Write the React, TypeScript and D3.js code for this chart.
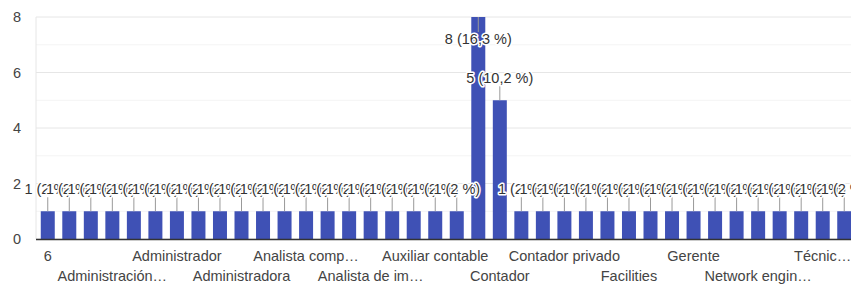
import * as d3 from 'd3';

const WIDTH = 851;
const HEIGHT = 287;
const MARGIN = { top: 17, right: 0, bottom: 48, left: 36 };

// categories in the order the form lists them (only every third is labelled)
const categories = [
  '6', 'Abogado', 'Administración', 'Administración de empresas', 'Administración pública',
  'Administrado', 'Administrador', 'Administrador de empresas', 'Administrador financiero',
  'Administradora', 'Administrativo', 'Analista', 'Analista compras internacionales',
  'Analista contable', 'Analista de costos', 'Analista de importaciones', 'Analista financiero',
  'Asistente contable', 'Auxiliar contable', 'Auxiliar de contabilidad', 'Contabilidad',
  'Contador', 'Contador general', 'Contador junior', 'Contador privado', 'Contador publico',
  'Director financiero', 'Facilities', 'Finanzas', 'Gerencia', 'Gerente',
  'Gerente administrativo', 'Jefe de contabilidad', 'Network engineer', 'Recursos humanos',
  'Supervisor', 'Técnico contable', 'Tesorero',
];
const counts = [
  1, 1, 1, 1, 1, 1, 1, 1, 1, 1, 1, 1, 1, 1, 1, 1, 1, 1, 1, 1, 8, 5,
  1, 1, 1, 1, 1, 1, 1, 1, 1, 1, 1, 1, 1, 1, 1, 1,
];
const tickLabels = [
  '6', 'Administración…', 'Administrador', 'Administradora', 'Analista comp…',
  'Analista de im…', 'Auxiliar contable', 'Contador', 'Contador privado', 'Facilities',
  'Gerente', 'Network engin…', 'Técnic…',
];
const yTicks = [0, 2, 4, 6, 8];
const yMinorTicks = [1, 3, 5, 7];

const FONT = "Arial, 'Liberation Sans', sans-serif";
const BAR = '#3f51b5';

const fmtPct = (v: number) => {
  const p = (v / d3.sum(counts)) * 100;
  return d3.format('.1f')(p).replace(/\.0$/, '').replace('.', ',');
};

export default function App() {
  const y0 = HEIGHT - MARGIN.bottom;
  const yScale = d3.scaleLinear().domain([0, 8]).range([y0, MARGIN.top]);
  const xScale = d3
    .scaleBand<string>()
    .domain(categories)
    .range([MARGIN.left + 1, 855])
    .paddingInner(0.35)
    .paddingOuter(0.175);
  const bw = xScale.bandwidth();
  const cx = (i: number) => (xScale(categories[i]) || 0) + bw / 2;

  // annotation placement: above the bar unless it would leave the plot
  const notes = counts.map((v, i) => {
    const top = yScale(v);
    const inside = top - 22 < MARGIN.top + 5;
    return {
      x: cx(i),
      top,
      stemEnd: inside ? top + 15 : top - 14,
      ty: inside ? top + 22 : top - 22,
      text: `${v} (${fmtPct(v)} %)`,
    };
  });

  return (
    <svg
      width={WIDTH}
      height={HEIGHT}
      style={{ position: 'absolute', left: 0, top: 0, background: '#fff' }}
      fontFamily={FONT}
    >
      {/* gridlines */}
      {yMinorTicks.map((t) => (
        <line key={'m' + t} x1={MARGIN.left} x2={WIDTH} y1={yScale(t)} y2={yScale(t)} stroke="#f4f4f4" />
      ))}
      {yTicks.map((t) => (
        <line key={'g' + t} x1={MARGIN.left} x2={WIDTH} y1={yScale(t)} y2={yScale(t)} stroke="#e6e6e6" />
      ))}
      <line x1={MARGIN.left} x2={MARGIN.left} y1={MARGIN.top} y2={y0} stroke="#e6e6e6" />

      {/* y tick labels */}
      {yTicks.map((t) => (
        <text key={'y' + t} x={21} y={yScale(t)} dy="0.35em" textAnchor="end" fontSize={14.5} fill="#444">
          {t}
        </text>
      ))}

      {/* bars */}
      {counts.map((v, i) => (
        <rect key={'b' + i} x={xScale(categories[i])} y={yScale(v)} width={bw} height={y0 - yScale(v)} fill={BAR} />
      ))}

      {/* baseline */}
      <line x1={MARGIN.left} x2={WIDTH} y1={y0 + 0.5} y2={y0 + 0.5} stroke="#333" strokeWidth={1.5} />

      {/* annotations */}
      {notes.map((n, i) => (
        <line key={'s' + i} x1={n.x} x2={n.x} y1={n.top} y2={n.stemEnd} stroke="#999" />
      ))}
      {notes.map((n, i) => (
        <text
          key={'a' + i}
          x={n.x}
          y={n.ty}
          dy="0.35em"
          textAnchor="middle"
          fontSize={14.5}
          fill="#333"
          stroke="#fff"
          strokeWidth={3}
          strokeLinejoin="round"
          paintOrder="stroke"
        >
          {n.text}
        </text>
      ))}

      {/* x tick labels: every third category, alternating rows */}
      {tickLabels.map((label, k) => (
        <text
          key={'x' + k}
          x={cx(k * 3)}
          y={k % 2 === 0 ? 256 : 276}
          dy="0.35em"
          textAnchor="middle"
          fontSize={14.5}
          fill="#444"
        >
          {label}
        </text>
      ))}
    </svg>
  );
}
